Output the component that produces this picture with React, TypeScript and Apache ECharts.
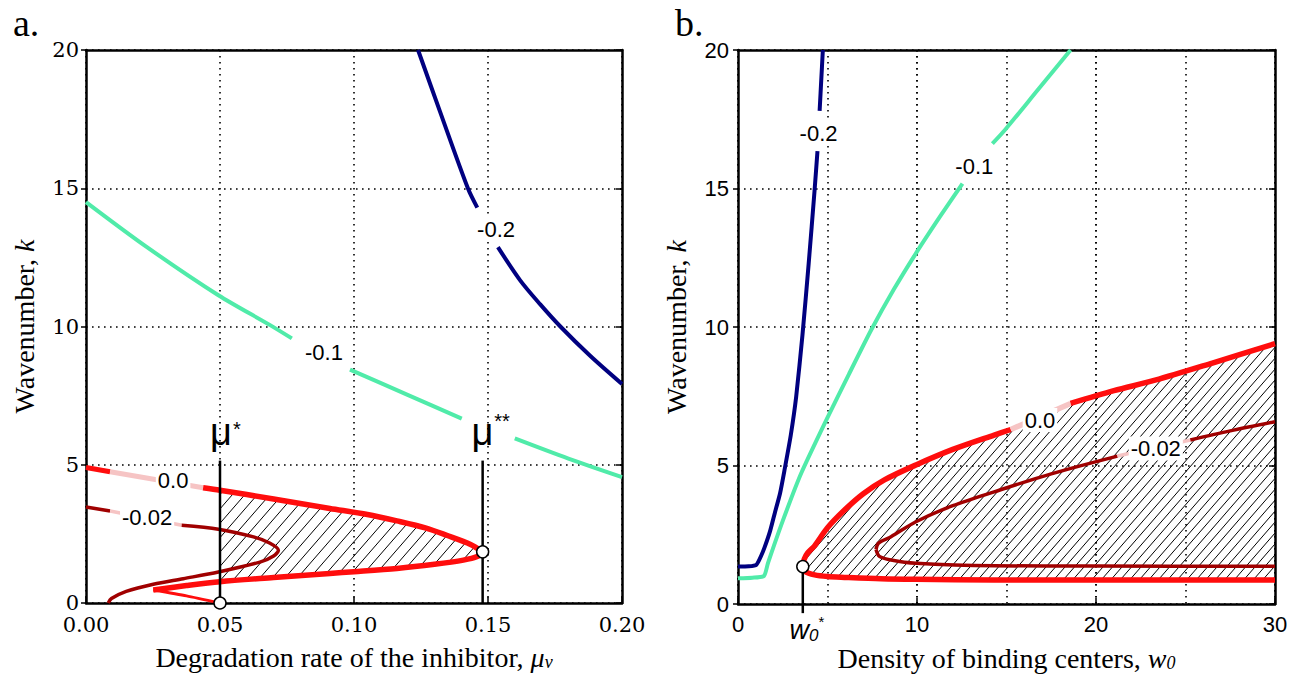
import React, { useEffect, useRef } from "react";
import * as echarts from "echarts";

type P = [number, number];

// ---------- Panel a: degradation rate of the inhibitor ----------
const aNavy1: P[] = [[0.1239, 20], [0.132, 17.8], [0.1425, 15], [0.146, 14.3]];
const aNavy2: P[] = [[0.1537, 12.87], [0.162, 11.67], [0.1695, 10.8], [0.177, 10.0], [0.188, 8.95], [0.2, 7.92]];
const aGreen1: P[] = [[0, 14.5], [0.0226, 12.88], [0.0494, 11.13], [0.0687, 10.05], [0.0768, 9.57]];
const aGreen2: P[] = [[0.0985, 8.44], [0.12, 7.53], [0.1402, 6.67]];
const aGreen3: P[] = [[0.16, 5.95], [0.18, 5.22], [0.2, 4.55]];
const aRed1: P[] = [[0, 4.9], [0.009, 4.75]];
const aRedPale: P[] = [[0.009, 4.75], [0.0437, 4.17]];
const aRedUpper: P[] = [[0.0437, 4.17], [0.05, 4.08], [0.07, 3.76], [0.091, 3.42], [0.105, 3.2], [0.116, 2.97], [0.1266, 2.72], [0.1346, 2.45], [0.1435, 2.12], [0.148, 1.85]];
const aRedLower: P[] = [[0.148, 1.85], [0.146, 1.68], [0.1408, 1.55], [0.13, 1.4], [0.116, 1.25], [0.1, 1.13], [0.091, 1.07], [0.07, 0.92], [0.05, 0.77], [0.0375, 0.63], [0.0251, 0.47]];
const aRedCusp: P[] = [[0.0251, 0.47], [0.0375, 0.26], [0.05, 0]];
const aDark1: P[] = [[0, 3.47], [0.009, 3.33]];
const aDarkPale: P[] = [[0.009, 3.33], [0.0357, 2.81]];
const aDark2: P[] = [[0.0357, 2.81], [0.0494, 2.67], [0.0625, 2.39], [0.0685, 2.17], [0.0718, 1.91], [0.07, 1.7], [0.0649, 1.48], [0.0494, 1.12], [0.0363, 0.88], [0.0251, 0.68], [0.015, 0.42], [0.0095, 0.16], [0.0083, 0]];
const aLabelText = ["-0.2", "-0.1", "0.0", "-0.02"];
const aLabelPos: P[] = [[0.153, 13.52], [0.0888, 9.05], [0.0325, 4.44], [0.0228, 3.1]];
const aMuStar = 0.05;
const aMuStarStar = 0.148;
const aNoseK = 1.85;
const aMarkerTop = 5.15;
const aXTicks = [0, 0.05, 0.1, 0.15, 0.2];

// ---------- Panel b: density of binding centers ----------
const bNavy1: P[] = [[0, 1.35], [0.6, 1.36], [1.03, 1.42], [1.3, 1.75], [1.5, 2.07], [1.8, 2.65], [2.05, 3.27], [2.35, 4.0], [2.6, 4.84], [2.95, 6.1], [3.25, 7.48], [3.6, 9.7], [3.95, 12.3], [4.28, 14.95], [4.44, 16.35]];
const bNavy2: P[] = [[4.56, 17.8], [4.65, 18.9], [4.74, 20]];
const bGreen1: P[] = [[0, 0.93], [0.8, 0.95], [1.45, 1.01], [1.67, 1.47], [2.5, 3.0], [3.53, 4.72], [4.93, 6.64], [6.2, 8.3], [7.44, 9.89], [8.7, 11.35], [9.94, 12.66], [11.3, 14.0], [12.54, 15.18]];
const bGreen2: P[] = [[14.21, 16.62], [14.96, 17.15], [16.8, 18.6], [18.58, 20]];
const bRedUpper1: P[] = [[3.62, 1.35], [3.7, 1.62], [3.9, 1.85], [4.28, 2.1], [5.0, 2.75], [5.95, 3.39], [7.0, 3.98], [8.18, 4.48], [9.94, 5.02], [12.0, 5.58], [14.31, 6.1], [15.24, 6.3]];
const bRedPale: P[] = [[15.24, 6.3], [18.58, 7.24]];
const bRedUpper2: P[] = [[18.58, 7.24], [21.0, 7.7], [23.3, 8.08], [26.5, 8.7], [30, 9.4]];
const bRedLower: P[] = [[3.62, 1.35], [3.75, 1.17], [4.28, 1.05], [5.0, 0.99], [5.95, 0.96], [8, 0.91], [9.94, 0.89], [14.31, 0.87], [20, 0.87], [30, 0.87]];
const bDarkUpper1: P[] = [[7.71, 1.97], [7.85, 2.2], [8.55, 2.43], [9.94, 2.97], [12, 3.55], [14.31, 4.05], [17.5, 4.7], [21.2, 5.34]];
const bDarkPale: P[] = [[21.2, 5.34], [25.27, 5.92]];
const bDarkUpper2: P[] = [[25.27, 5.92], [27.5, 6.25], [30, 6.58]];
const bDarkLower: P[] = [[7.71, 1.97], [7.9, 1.72], [8.55, 1.59], [9.94, 1.47], [14.31, 1.38], [20, 1.37], [30, 1.36]];
const bLabelText = ["-0.2", "-0.1", "0.0", "-0.02"];
const bLabelPos: P[] = [[4.5, 17.0], [13.2, 15.8], [16.87, 6.64], [23.34, 5.61]];
const bW0Star = 3.62;
const bNoseK = 1.35;
const bXTicks = [0, 10, 20, 30];

const NAVY = "#000080";
const GREEN = "#50eba9";
const RED = "#ff0d0d";
const DARK = "#a00000";
const PALE = "#f6c4c4";

function hatch(poly: number[][], spacing: number, slope: number) {
  let cmin = Infinity;
  let cmax = -Infinity;
  for (const [x, y] of poly) {
    const c = y + slope * x;
    if (c < cmin) cmin = c;
    if (c > cmax) cmax = c;
  }
  const step = spacing * slope;
  const children: any[] = [];
  for (let c = Math.ceil(cmin / step) * step; c <= cmax; c += step) {
    const xs: number[] = [];
    for (let i = 0; i < poly.length; i++) {
      const a = poly[i];
      const b = poly[(i + 1) % poly.length];
      const fa = a[1] + slope * a[0] - c;
      const fb = b[1] + slope * b[0] - c;
      if ((fa < 0 && fb >= 0) || (fa >= 0 && fb < 0)) {
        const t = fa / (fa - fb);
        xs.push(a[0] + t * (b[0] - a[0]));
      }
    }
    xs.sort((p, q) => p - q);
    for (let j = 0; j + 1 < xs.length; j += 2) {
      const x1 = xs[j];
      const x2 = xs[j + 1];
      children.push({
        type: "line",
        shape: { x1, y1: c - slope * x1, x2, y2: c - slope * x2 },
        style: { stroke: "#000", lineWidth: 1 },
      });
    }
  }
  return { type: "group", children };
}

export default function App() {
  const ref = useRef<HTMLDivElement>(null);
  useEffect(() => {
    if (!ref.current) return;
    const chart = echarts.init(ref.current, null, { renderer: "svg" });

    const line = (data: P[], g: number, color: string, width: number, z = 3, smooth: any = 0.3) => ({
      type: "line",
      xAxisIndex: g * 2,
      yAxisIndex: g * 2,
      data,
      showSymbol: false,
      symbol: "none",
      smooth,
      silent: true,
      clip: false,
      z,
      lineStyle: { color, width, cap: "butt", join: "round" },
    });

    const contourLabels = (g: number, texts: string[], pos: P[]) => ({
      type: "scatter",
      xAxisIndex: g * 2,
      yAxisIndex: g * 2,
      symbolSize: 0,
      silent: true,
      z: 8,
      itemStyle: { opacity: 1 },
      data: pos.map((p, i) => ({ value: p, name: texts[i] })),
      label: {
        show: true,
        position: "inside",
        formatter: (p: any) => p.name,
        color: "#000",
        opacity: 1,
        fontSize: 22,
        fontFamily: "Liberation Sans",
        backgroundColor: "#fff",
        padding: [1, 2],
      },
    });

    const aPolyData: P[] = aRedUpper.filter((p) => p[0] >= aMuStar).concat(aRedLower.filter((p) => p[0] >= aMuStar).slice(1));
    const bUpperAll: P[] = bRedUpper1.concat(bRedPale.slice(1), bRedUpper2.slice(1));
    const bPolyData: P[] = bUpperAll.concat(bRedLower.slice(1).reverse());

    const hatchSeries = (g: number, poly: P[], spacing: number) => ({
      type: "custom",
      xAxisIndex: g * 2,
      yAxisIndex: g * 2,
      coordinateSystem: "cartesian2d",
      silent: true,
      z: 2,
      clip: true,
      data: [[0, 0]],
      renderItem: (_params: any, api: any) => {
        const px = poly.map((p) => api.coord(p));
        return hatch(px, spacing, 1.15);
      },
    });

    const tickRich = {
      sf: { color: "#000", fontSize: 21, fontFamily: "DejaVu Serif", lineHeight: 18 },
      ss: { color: "#000", fontSize: 22, fontFamily: "Liberation Sans", lineHeight: 20 },
    };
    const serifTick = (s: string) => (s === "" ? "" : `{sf|${s}}`);
    const sansTick = (s: string) => (s === "" ? "" : `{ss|${s}}`);
    const grid = { lineStyle: { color: "#000", width: 1.6, type: [1.6, 4.4] } };
    const axLine = { show: true, onZero: false, lineStyle: { color: "#000", width: 2.5 } };
    const titleStyle = {
      color: "#000",
      fontSize: 28,
      fontFamily: "Liberation Serif",
      rich: {
        i: { fontSize: 28, fontFamily: "Liberation Serif", fontStyle: "italic", color: "#000" },
        sub: { fontSize: 18, fontFamily: "Liberation Serif", fontStyle: "italic", color: "#000", verticalAlign: "bottom", lineHeight: 28, padding: [10, 0, 0, 0] },
      },
    };

    const option: any = {
      animation: false,
      grid: [
        { left: 86, top: 50, width: 536, height: 553 },
        { left: 738, top: 50, width: 537, height: 554 },
      ],
      xAxis: [
        {
          gridIndex: 0, type: "value", min: 0, max: 0.2, interval: 0.05,
          axisLine: axLine, axisTick: { show: true, inside: true, length: 6, lineStyle: { width: 1.5, color: "#000" } },
          axisLabel: { margin: 13, rich: tickRich, formatter: (v: number) => serifTick(aXTicks.some((t) => Math.abs(t - v) < 1e-9) ? v.toFixed(2) : "") },
          splitLine: { show: true, ...grid },
          name: "Degradation rate of the inhibitor, {i|μ}{sub|ν}", nameLocation: "middle", nameGap: 40, nameTextStyle: titleStyle,
        },
        { gridIndex: 0, type: "value", min: 0, max: 0.2, position: "top", axisLine: axLine, axisTick: { show: false }, axisLabel: { show: false }, splitLine: { show: false } },
        {
          gridIndex: 1, type: "value", min: 0, max: 30, interval: 10,
          axisLine: axLine, axisTick: { show: true, inside: true, length: 6, lineStyle: { width: 1.5, color: "#000" } },
          axisLabel: { margin: 10, rich: tickRich, formatter: (v: number) => sansTick(bXTicks.indexOf(v) >= 0 ? String(v) : "") },
          splitLine: { show: true, ...grid },
          name: "Density of binding centers, {i|w}{sub|0}", nameLocation: "middle", nameGap: 40, nameTextStyle: titleStyle,
        },
        {
          gridIndex: 1, type: "value", min: 0, max: 30, interval: 5, position: "top",
          axisLine: axLine, axisTick: { show: false }, axisLabel: { show: false },
          splitLine: { show: true, ...grid },
        },
      ],
      yAxis: [
        {
          gridIndex: 0, type: "value", min: 0, max: 20, interval: 5,
          axisLine: axLine, axisTick: { show: true, inside: false, length: 5, lineStyle: { width: 1.5, color: "#000" } },
          axisLabel: { margin: 7, rich: tickRich, formatter: (v: number) => serifTick(String(v)) },
          splitLine: { show: true, ...grid },
          name: "Wavenumber, {i|k}", nameLocation: "middle", nameGap: 48, nameTextStyle: titleStyle,
        },
        { gridIndex: 0, type: "value", min: 0, max: 20, interval: 5, position: "right", axisLine: axLine, axisTick: { show: true, inside: true, length: 6, lineStyle: { width: 1.5, color: "#000" } }, axisLabel: { show: false }, splitLine: { show: false } },
        {
          gridIndex: 1, type: "value", min: 0, max: 20, interval: 5,
          axisLine: axLine, axisTick: { show: true, inside: false, length: 5, lineStyle: { width: 1.5, color: "#000" } },
          axisLabel: { margin: 9, rich: tickRich, formatter: (v: number) => sansTick(String(v)) },
          splitLine: { show: true, ...grid },
          name: "Wavenumber, {i|k}", nameLocation: "middle", nameGap: 48, nameTextStyle: titleStyle,
        },
        { gridIndex: 1, type: "value", min: 0, max: 20, interval: 5, position: "right", axisLine: axLine, axisTick: { show: true, inside: true, length: 6, lineStyle: { width: 1.5, color: "#000" } }, axisLabel: { show: false }, splitLine: { show: false } },
      ],
      graphic: [
        { type: "text", left: 13, top: 4, style: { text: "a.", font: "38px 'Liberation Serif'", fill: "#000" } },
        { type: "text", left: 675, top: 4, style: { text: "b.", font: "38px 'Liberation Serif'", fill: "#000" } },
      ],
      series: [
        hatchSeries(0, aPolyData, 12.5),
        hatchSeries(1, bPolyData, 9.5),
        // panel a curves
        line(aNavy1, 0, NAVY, 4),
        line(aNavy2, 0, NAVY, 4),
        line(aGreen1, 0, GREEN, 4),
        line(aGreen2, 0, GREEN, 4),
        line(aGreen3, 0, GREEN, 4),
        line(aDark1, 0, DARK, 3.5),
        line(aDarkPale, 0, PALE, 3.5),
        line(aDark2, 0, DARK, 3.5),
        line(aRed1, 0, RED, 5),
        line(aRedPale, 0, PALE, 5),
        line(aRedUpper, 0, RED, 5.5),
        line(aRedLower, 0, RED, 5.5),
        line(aRedCusp, 0, RED, 2.8, 3, 0.2),
        line([[aMuStar, 0], [aMuStar, aMarkerTop]], 0, "#000", 2.5, 5, false),
        line([[aMuStarStar, 0], [aMuStarStar, aMarkerTop]], 0, "#000", 2.5, 5, false),
        // panel b curves
        line(bNavy1, 1, NAVY, 4, 3, 0.2),
        line(bNavy2, 1, NAVY, 4),
        line(bGreen1, 1, GREEN, 4, 3, 0.2),
        line(bGreen2, 1, GREEN, 4),
        line(bDarkUpper1, 1, DARK, 3.5),
        line(bDarkPale, 1, PALE, 3.5),
        line(bDarkUpper2, 1, DARK, 3.5),
        line(bDarkLower, 1, DARK, 3.5),
        line(bRedUpper1, 1, RED, 5.5),
        line(bRedPale, 1, PALE, 5.5),
        line(bRedUpper2, 1, RED, 5.5),
        line(bRedLower, 1, RED, 5.5),
        line([[bW0Star, bNoseK], [bW0Star, -0.33]], 1, "#000", 2.5, 5, false),
        contourLabels(0, aLabelText, aLabelPos),
        contourLabels(1, bLabelText, bLabelPos),
        {
          type: "scatter", xAxisIndex: 0, yAxisIndex: 0, symbol: "circle", symbolSize: 12, silent: true, clip: false, z: 9,
          itemStyle: { color: "#fff", borderColor: "#000", borderWidth: 1.5, opacity: 1 },
          data: [[aMuStar, 0], [aMuStarStar, aNoseK]],
        },
        {
          type: "scatter", xAxisIndex: 2, yAxisIndex: 2, symbol: "circle", symbolSize: 12, silent: true, clip: false, z: 9,
          itemStyle: { color: "#fff", borderColor: "#000", borderWidth: 1.5, opacity: 1 },
          data: [[bW0Star, bNoseK]],
        },
        {
          type: "scatter", xAxisIndex: 0, yAxisIndex: 0, symbolSize: 0, silent: true, clip: false, z: 9,
          itemStyle: { opacity: 1 },
          data: [
            { value: [0.052, 6.2], name: "{m|μ}{s|*}" },
            { value: [0.151, 6.2], name: "{m|μ}{t|**}" },
          ],
          label: {
            show: true, position: "inside", formatter: (p: any) => p.name, opacity: 1,
            rich: {
              m: { fontSize: 38, fontFamily: "Liberation Sans", color: "#000", lineHeight: 44 },
              s: { fontSize: 20, fontFamily: "Liberation Sans", color: "#000", verticalAlign: "top", lineHeight: 20, padding: [9, 0, 0, 1] },
              t: { fontSize: 20, fontFamily: "Liberation Sans", color: "#000", verticalAlign: "top", lineHeight: 20, padding: [1, 0, 0, 1] },
            },
          },
        },
        {
          type: "scatter", xAxisIndex: 2, yAxisIndex: 2, symbolSize: 0, silent: true, clip: false, z: 9,
          itemStyle: { opacity: 1 },
          data: [
            { value: [3.85, -0.95], name: "{w|w}{sub|0}{st|*}" },
          ],
          label: {
            show: true, position: "inside", formatter: (p: any) => p.name, opacity: 1,
            rich: {
              w: { fontSize: 27, fontFamily: "Liberation Sans", fontStyle: "italic", color: "#000", lineHeight: 32 },
              sub: { fontSize: 17, fontFamily: "Liberation Sans", fontStyle: "italic", color: "#000", verticalAlign: "bottom", lineHeight: 17, padding: [0, 0, 2, 0] },
              st: { fontSize: 15, fontFamily: "Liberation Sans", color: "#000", verticalAlign: "top", lineHeight: 15, padding: [0, 0, 0, 0] },
            },
          },
        },
      ],
    };
    chart.setOption(option);
    return () => chart.dispose();
  }, []);
  return <div ref={ref} style={{ position: "absolute", left: 0, top: 0, width: 1303, height: 679, background: "#fff" }} />;
}
